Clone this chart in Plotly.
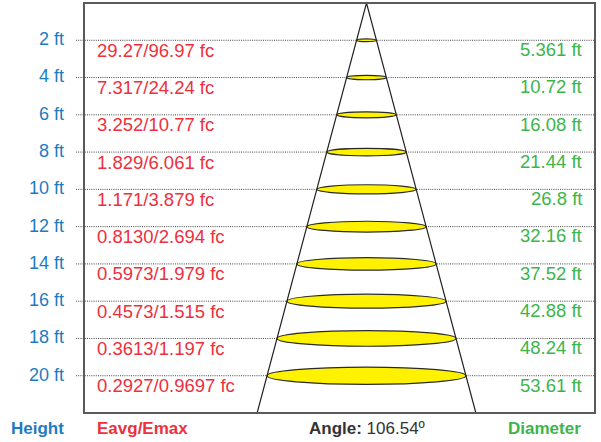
import math
import plotly.graph_objects as go

# ---- data ----
heights = [2, 4, 6, 8, 10, 12, 14, 16, 18, 20]
height_labels = ["2 ft", "4 ft", "6 ft", "8 ft", "10 ft", "12 ft", "14 ft", "16 ft", "18 ft", "20 ft"]
illum_labels = ["29.27/96.97 fc", "7.317/24.24 fc", "3.252/10.77 fc", "1.829/6.061 fc",
                "1.171/3.879 fc", "0.8130/2.694 fc", "0.5973/1.979 fc", "0.4573/1.515 fc",
                "0.3613/1.197 fc", "0.2927/0.9697 fc"]
diameters = [5.361, 10.72, 16.08, 21.44, 26.8, 32.16, 37.52, 42.88, 48.24, 53.61]
diameter_labels = ["5.361 ft", "10.72 ft", "16.08 ft", "21.44 ft", "26.8 ft",
                   "32.16 ft", "37.52 ft", "42.88 ft", "48.24 ft", "53.61 ft"]
beam_angle = 106.54

# ---- style ----
BLUE = "#1f7bc1"
RED = "#ee2f3c"
GREEN = "#3db54a"
DARK = "#333333"
FONT = "Liberation Sans, Arial, sans-serif"

W, H = 601, 442
ML, MR, MT, MB = 84, 6, 3, 29
plot_w = W - ML - MR
plot_h = H - MT - MB
Y_MAX = 22.0
px_per_ft_y = plot_h / Y_MAX
px_per_ft_x = 3.71
apex_px = 366.5 - ML
x_range = [-apex_px / px_per_ft_x, (plot_w - apex_px) / px_per_ft_x]

half_tan = math.tan(math.radians(beam_angle / 2))

fig = go.Figure()

shapes = []
# dotted guide lines
for h in heights:
    shapes.append(dict(type="line", xref="paper", yref="y", x0=-8 / plot_w, x1=1, y0=h, y1=h,
                       line=dict(color="#444444", width=1, dash="1px,1.2px"), layer="below"))
# ellipses (beam footprint)
for h, d in zip(heights, diameters):
    r = d / 2
    semi_minor = (0.4 * h + 0.6) / px_per_ft_y
    shapes.append(dict(type="circle", xref="x", yref="y", x0=-r, x1=r,
                       y0=h - semi_minor, y1=h + semi_minor,
                       fillcolor="#fff200", line=dict(color="#2a2a2a", width=1.2), layer="below"))
# frame
shapes.append(dict(type="rect", xref="paper", yref="paper", x0=0, x1=1, y0=0, y1=1,
                   line=dict(color="#5a5a5a", width=2), layer="above"))

# cone
rb = half_tan * Y_MAX
fig.add_trace(go.Scatter(x=[-rb, 0, rb], y=[Y_MAX, 0, Y_MAX], mode="lines",
                         line=dict(color="#222222", width=1.2), hoverinfo="skip", showlegend=False))

ann = []
for h, hl, il, dl in zip(heights, height_labels, illum_labels, diameter_labels):
    ann.append(dict(xref="paper", yref="y", x=-18 / plot_w, y=h - 0.06, text=hl, showarrow=False,
                    xanchor="right", yanchor="middle", font=dict(family=FONT, size=18, color=BLUE)))
    ann.append(dict(xref="paper", yref="y", x=11 / plot_w, y=h + 0.54, text=il, showarrow=False,
                    xanchor="left", yanchor="middle", font=dict(family=FONT, size=18.5, color=RED)))
    ann.append(dict(xref="paper", yref="y", x=500 / plot_w, y=h + 0.5, text=dl, showarrow=False,
                    xanchor="right", yanchor="middle", font=dict(family=FONT, size=18.5, color=GREEN)))

yb = -15 / plot_h
ann.append(dict(xref="paper", yref="paper", x=-18 / plot_w, y=yb, text="<b>Height</b>", showarrow=False,
                xanchor="right", yanchor="middle", font=dict(family=FONT, size=17, color=BLUE)))
ann.append(dict(xref="paper", yref="paper", x=11 / plot_w, y=yb, text="<b>Eavg/Emax</b>", showarrow=False,
                xanchor="left", yanchor="middle", font=dict(family=FONT, size=17, color=RED)))
ann.append(dict(xref="x", yref="paper", x=0, y=yb, text=f"<b>Angle:</b> {beam_angle}º", showarrow=False,
                xanchor="center", yanchor="middle", font=dict(family=FONT, size=17, color=DARK)))
ann.append(dict(xref="paper", yref="paper", x=499 / plot_w, y=yb, text="<b>Diameter</b>", showarrow=False,
                xanchor="right", yanchor="middle", font=dict(family=FONT, size=17, color=GREEN)))

fig.update_layout(
    width=W, height=H,
    margin=dict(l=ML, r=MR, t=MT, b=MB, pad=0),
    paper_bgcolor="white", plot_bgcolor="white",
    xaxis=dict(range=x_range, visible=False, fixedrange=True),
    yaxis=dict(range=[Y_MAX, 0], visible=False, fixedrange=True),
    shapes=shapes, annotations=ann, showlegend=False,
)

fig.write_html("out.html", config={"displayModeBar": False},
               post_script="document.body.style.margin='0px';document.body.style.overflow='hidden';")
